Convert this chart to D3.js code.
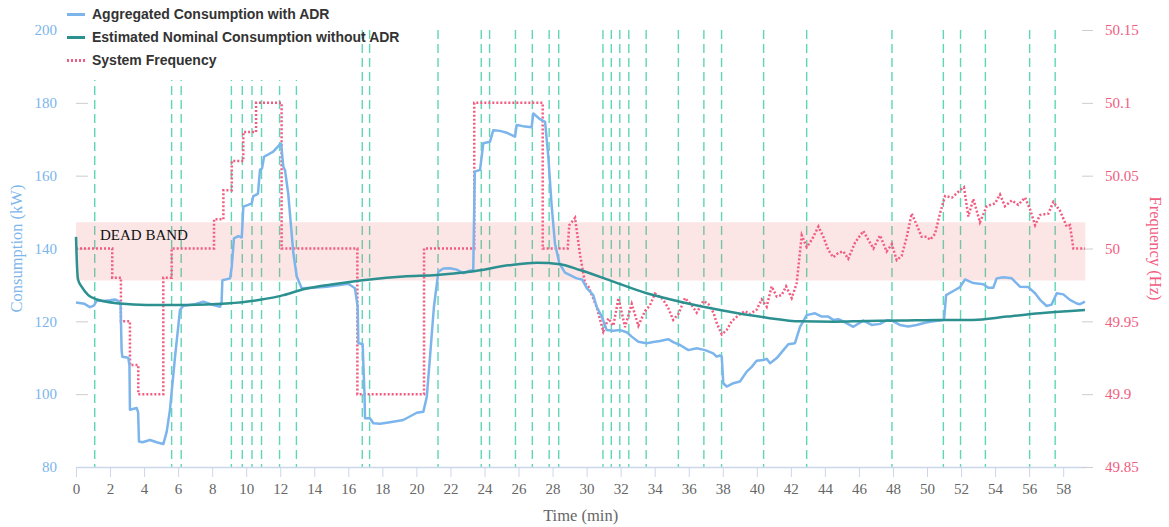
<!DOCTYPE html>
<html>
<head>
<meta charset="utf-8">
<script src="https://cdn.jsdelivr.net/npm/d3@7"></script>
<style>
  body { margin: 0; background: #fff; }
  svg { display: block; }
  .serif { font-family: "Liberation Serif", "Times New Roman", serif; }
  .legend text { font-family: "Liberation Sans", Arial, sans-serif; font-weight: bold; font-size: 14px; fill: #333; }
</style>
</head>
<body>
<svg id="chart" width="1169" height="527"></svg>
<script>
// minutes where an ADR event happened (dashed markers)
var eventTimes = [1.10, 5.62, 6.18, 9.13, 9.77, 10.34, 10.90, 11.96, 12.95, 16.82, 17.25, 21.27,
  23.81, 24.30, 25.82, 26.81, 27.80, 28.36, 30.96, 31.45, 31.95, 32.48, 33.50, 35.39, 36.89,
  37.93, 40.40, 42.93, 47.94, 50.96, 51.97, 53.43, 56.03, 57.53];

// [time (min), kW]
var aggregatedConsumption = [
  [0, 125.2], [0.5, 124.8], [0.82, 123.9], [1.05, 124.3], [1.22, 125.7], [1.6, 125.6], [2.0, 125.8],
  [2.29, 126.0], [2.54, 125.5], [2.62, 124.5], [2.68, 112], [2.72, 110.3], [3.07, 110.0], [3.14, 108],
  [3.17, 95.7], [3.57, 96.2], [3.65, 95], [3.70, 87.0], [3.9, 86.8], [4.35, 87.4], [4.74, 86.8],
  [5.13, 86.3], [5.33, 89.7], [5.52, 95.7], [5.82, 110.3], [6.11, 123.1], [6.30, 124.3], [6.89, 124.6],
  [7.48, 125.4], [8.07, 124.5], [8.46, 124.0], [8.55, 124.8], [8.60, 131.3], [9.05, 131.8], [9.15, 135],
  [9.28, 142.8], [9.54, 143.4], [9.74, 143.0], [9.83, 151.5], [10.12, 152.0], [10.32, 152.4],
  [10.42, 154.4], [10.69, 155], [10.81, 161.6], [10.93, 162], [11.05, 165.2], [11.59, 166.6],
  [11.94, 168.4], [12.05, 168.8], [12.18, 162.5], [12.28, 161.5], [12.47, 155], [12.77, 138.7],
  [12.97, 132.3], [13.26, 129.1], [13.94, 129.2], [14.73, 129.5], [15.51, 130.0], [16.0, 130.3],
  [16.39, 129.1], [16.55, 124], [16.59, 114], [16.84, 113.8], [16.95, 100], [16.98, 93.4],
  [17.27, 93.4], [17.47, 92.0], [17.86, 91.9], [18.45, 92.3], [19.23, 92.9], [20.02, 94.9],
  [20.41, 95.2], [20.61, 99.3], [20.80, 110.3], [21.03, 124], [21.29, 133.6], [21.58, 134.5],
  [21.97, 134.6], [22.37, 134.2], [22.76, 133.2], [23.05, 133.8], [23.34, 134], [23.43, 161.1],
  [23.74, 161.6], [23.93, 168.9], [24.32, 169.3], [24.52, 172.5], [24.91, 172.3], [25.31, 171.8],
  [25.79, 170.7], [25.89, 173.9], [26.26, 173.6], [26.77, 173.3], [26.87, 177.1], [27.26, 175.5],
  [27.56, 174.8], [27.75, 165.2], [27.95, 151.5], [28.14, 141.4], [28.40, 135.9], [28.73, 133.4],
  [29.42, 131.8], [29.73, 131.5], [30.01, 129.1], [30.39, 127.2], [30.59, 124], [30.89, 121.3],
  [31.18, 117.6], [31.57, 117.4], [31.96, 117.6], [32.36, 117.0], [32.65, 115.8], [33.04, 114.4],
  [33.53, 114], [33.92, 114.3], [34.31, 114.6], [34.80, 115.1], [35.09, 114.3], [35.49, 113.5],
  [35.98, 112.1], [36.47, 112.6], [36.96, 112.1], [37.44, 111.2], [37.64, 110.3], [37.84, 110.6],
  [37.94, 110.3], [38.03, 103], [38.23, 102.1], [38.62, 103], [39.01, 103.5], [39.41, 106.2],
  [39.70, 107.5], [39.99, 109.2], [40.38, 109.4], [40.58, 109.7], [40.78, 108.5], [41.17, 109.9],
  [41.56, 112.1], [41.85, 113.7], [42.24, 114], [42.54, 118.5], [42.93, 121.7], [43.42, 122.2],
  [43.81, 121.3], [44.20, 121.3], [44.49, 120.4], [44.79, 120.6], [45.08, 120.0], [45.67, 118.5],
  [46.26, 120.2], [46.75, 119], [47.24, 119.3], [47.63, 120.3], [47.93, 120.2], [48.41, 119],
  [48.90, 118.6], [49.39, 119.0], [49.88, 119.6], [50.37, 120.0], [50.76, 120.2], [51.0, 120.4],
  [51.12, 127.2], [51.65, 128.6], [51.94, 129.4], [52.23, 131.5], [52.72, 130.5], [53.31, 130.2],
  [53.60, 129.2], [53.89, 129.2], [54.09, 131.8], [54.48, 132.1], [54.98, 131.8], [55.46, 129.5],
  [55.95, 129.4], [56.35, 127.7], [56.64, 125.9], [57.03, 124.2], [57.32, 124.6], [57.62, 127.7],
  [58.01, 127.4], [58.40, 125.9], [58.80, 124.9], [58.99, 124.7], [59.28, 125.4]
];

// [time (min), kW]
var nominalConsumption = [
  [0, 143.2], [0.05, 136], [0.12, 131.5], [0.33, 129.5], [0.72, 127.2], [1.22, 126.0], [2.59, 124.9],
  [4.15, 124.5], [6.5, 124.5], [8.85, 124.9], [10.81, 125.9], [12.2, 127.2], [13.36, 128.8],
  [15.32, 130.3], [17.27, 131.5], [19.23, 132.3], [21.19, 132.7], [23.15, 133.6], [25.6, 135.5],
  [27.07, 136.1], [28.44, 135.7], [29.61, 134.1], [31.57, 130.9], [33.53, 127.7], [35.49, 125.4],
  [37.84, 123.1], [40.58, 121.0], [42.54, 120.0], [44.49, 119.9], [46.46, 120.1], [48.41, 120.2],
  [50.76, 120.4], [52.7, 120.4], [54.68, 121.3], [56.64, 122.2], [59.28, 123.1]
];

// [time (min), Hz]
var systemFrequency = [
  [0, 50], [2.13, 50], [2.13, 49.98], [2.64, 49.98], [2.64, 49.95], [3.17, 49.95], [3.17, 49.92],
  [3.66, 49.92], [3.66, 49.9], [5.13, 49.9], [5.13, 49.98], [5.62, 49.98], [5.62, 50], [8.11, 50],
  [8.11, 50.02], [8.66, 50.02], [8.66, 50.04], [9.15, 50.04], [9.15, 50.06], [9.83, 50.06],
  [9.83, 50.08], [10.58, 50.08], [10.58, 50.1], [12.08, 50.1], [12.08, 50], [16.53, 50],
  [16.53, 49.9], [20.45, 49.9], [20.45, 50], [23.40, 50], [23.40, 50.1], [27.42, 50.1],
  [27.42, 50], [28.89, 50],
  [28.98, 50.016], [29.32, 50.021], [29.61, 49.996], [29.91, 49.976], [30.1, 49.974], [30.59, 49.96],
  [30.98, 49.943], [31.28, 49.952], [31.57, 49.947], [31.87, 49.966], [32.26, 49.946], [32.65, 49.962],
  [33.04, 49.947], [33.43, 49.957], [33.72, 49.961], [34.02, 49.969], [34.41, 49.966], [34.6, 49.963],
  [34.8, 49.959], [35.09, 49.951], [35.39, 49.955], [35.78, 49.966], [36.18, 49.961], [36.47, 49.956],
  [36.86, 49.964], [37.15, 49.962], [37.45, 49.956], [37.64, 49.949], [37.94, 49.941], [38.23, 49.944],
  [38.52, 49.95], [38.91, 49.954], [39.31, 49.957], [39.6, 49.955], [39.99, 49.958], [40.29, 49.965],
  [40.58, 49.96], [40.87, 49.974], [41.17, 49.967], [41.46, 49.968], [41.72, 49.974], [42.05, 49.966],
  [42.34, 49.976], [42.64, 50.009], [42.93, 50.001], [43.23, 50.006], [43.62, 50.015], [43.91, 50.008],
  [44.2, 49.999], [44.49, 49.994], [44.79, 49.997], [45.08, 49.998], [45.37, 49.993], [45.77, 50.004],
  [46.26, 50.012], [46.55, 50.006], [46.85, 50.0], [47.24, 50.009], [47.63, 49.998], [47.93, 50.003],
  [48.22, 49.992], [48.51, 49.995], [48.81, 50.008], [49.1, 50.024], [49.4, 50.016], [49.69, 50.008],
  [49.98, 50.008], [50.18, 50.006], [50.47, 50.01], [50.76, 50.024], [51.06, 50.036], [51.47, 50.035],
  [51.94, 50.04], [52.17, 50.042], [52.43, 50.022], [52.72, 50.034], [53.11, 50.018], [53.51, 50.029],
  [54.0, 50.031], [54.29, 50.037], [54.58, 50.029], [54.98, 50.033], [55.36, 50.03], [55.76, 50.035],
  [56.05, 50.027], [56.35, 50.016], [56.64, 50.023], [57.13, 50.024], [57.42, 50.032], [57.81, 50.026],
  [58.21, 50.015], [58.4, 50.016], [58.6, 50.0], [59.28, 50.0]
];

var deadBand = [49.978, 50.018];
var timeTicks = d3.range(0, 59, 2);
var kwTicks = [80, 100, 120, 140, 160, 180, 200];
var hzTicks = [49.85, 49.9, 49.95, 50, 50.05, 50.1, 50.15];

var svg = d3.select("#chart");
var plotLeft = 76, plotRight = 1085.3, plotTop = 30, plotBottom = 467;

var x = d3.scaleLinear().domain([0, 59.3]).range([plotLeft, plotRight]);
var yKw = d3.scaleLinear().domain([80, 200]).range([plotBottom, plotTop]);
var yHz = d3.scaleLinear().domain([49.85, 50.15]).range([plotBottom, plotTop]);

// small inner ticks on the left axis
var kwTickMarks = svg.append("g")
  .attr("transform", "translate(" + plotLeft + ",0)")
  .call(d3.axisRight(yKw).tickValues(kwTicks).tickSize(12).tickFormat(""));
kwTickMarks.select(".domain").remove();
kwTickMarks.selectAll("line").attr("stroke", "#ccc");

// event markers
svg.append("g")
  .selectAll("line")
  .data(eventTimes)
  .enter().append("line")
  .attr("x1", function(d) { return x(d); })
  .attr("x2", function(d) { return x(d); })
  .attr("y1", plotTop)
  .attr("y2", plotBottom)
  .attr("stroke", "#5fd6b6")
  .attr("stroke-width", 1.4)
  .attr("stroke-dasharray", "9,5");

// dead band
svg.append("rect")
  .attr("x", plotLeft)
  .attr("width", plotRight - plotLeft)
  .attr("y", yHz(deadBand[1]))
  .attr("height", yHz(deadBand[0]) - yHz(deadBand[1]))
  .attr("fill", "rgba(240,100,100,0.17)");

svg.append("text")
  .attr("class", "serif")
  .attr("x", 100)
  .attr("y", 240)
  .attr("font-size", 15)
  .attr("fill", "#111")
  .text("DEAD BAND");

// x axis
var xAxis = svg.append("g")
  .attr("transform", "translate(0," + plotBottom + ")")
  .call(d3.axisBottom(x).tickValues(timeTicks).tickSize(10).tickPadding(6).tickSizeOuter(0));
xAxis.select(".domain").attr("stroke", "#ccd6eb").attr("stroke-width", 1.5);
xAxis.selectAll(".tick line").attr("stroke", "#ccd6eb");
xAxis.selectAll("text").attr("class", "serif").attr("font-size", 15).attr("fill", "#666");

// left axis labels
var kwAxis = svg.append("g")
  .attr("transform", "translate(" + plotLeft + ",0)")
  .call(d3.axisLeft(yKw).tickValues(kwTicks).tickSize(0).tickPadding(19));
kwAxis.select(".domain").remove();
kwAxis.selectAll("text").attr("class", "serif").attr("font-size", 15).attr("fill", "#7cb5ec");

// right axis
var hzTickMarks = svg.append("g")
  .attr("transform", "translate(1093,0)")
  .call(d3.axisLeft(yHz).tickValues(hzTicks).tickSize(11).tickFormat(""));
hzTickMarks.select(".domain").remove();
hzTickMarks.selectAll("line").attr("stroke", "#ccc");

var hzAxis = svg.append("g")
  .attr("transform", "translate(1093,0)")
  .call(d3.axisRight(yHz).tickValues(hzTicks).tickSize(0).tickPadding(12).tickFormat(d3.format("")));
hzAxis.select(".domain").remove();
hzAxis.selectAll("text").attr("class", "serif").attr("font-size", 15).attr("fill", "#f15c80");

// axis titles
svg.append("text")
  .attr("class", "serif")
  .attr("transform", "translate(22," + (plotTop + plotBottom) / 2 + ") rotate(-90)")
  .attr("text-anchor", "middle")
  .attr("font-size", 16.5)
  .attr("fill", "#7cb5ec")
  .text("Consumption (kW)");

svg.append("text")
  .attr("class", "serif")
  .attr("transform", "translate(1150," + (plotTop + plotBottom) / 2 + ") rotate(90)")
  .attr("text-anchor", "middle")
  .attr("font-size", 16.5)
  .attr("fill", "#f15c80")
  .text("Frequency (Hz)");

svg.append("text")
  .attr("class", "serif")
  .attr("x", (plotLeft + plotRight) / 2)
  .attr("y", 521)
  .attr("text-anchor", "middle")
  .attr("font-size", 16.5)
  .attr("fill", "#666")
  .text("Time (min)");

// series
var kwLine = d3.line()
  .x(function(d) { return x(d[0]); })
  .y(function(d) { return yKw(d[1]); });

var nominalLine = d3.line()
  .curve(d3.curveMonotoneX)
  .x(function(d) { return x(d[0]); })
  .y(function(d) { return yKw(d[1]); });

var hzLine = d3.line()
  .x(function(d) { return x(d[0]); })
  .y(function(d) { return yHz(d[1]); });

svg.append("path")
  .datum(systemFrequency)
  .attr("d", hzLine)
  .attr("fill", "none")
  .attr("stroke", "#f15c80")
  .attr("stroke-width", 2.5)
  .attr("stroke-dasharray", "2,2");

svg.append("path")
  .datum(aggregatedConsumption)
  .attr("d", kwLine)
  .attr("fill", "none")
  .attr("stroke", "#7cb5ec")
  .attr("stroke-width", 2.5)
  .attr("stroke-linejoin", "round");

svg.append("path")
  .datum(nominalConsumption)
  .attr("d", nominalLine)
  .attr("fill", "none")
  .attr("stroke", "#2b908f")
  .attr("stroke-width", 2.5);

// legend
var legendItems = [
  { name: "Aggregated Consumption with ADR", color: "#7cb5ec", dash: null },
  { name: "Estimated Nominal Consumption without ADR", color: "#2b908f", dash: null },
  { name: "System Frequency", color: "#f15c80", dash: "2,2" }
];

var legend = svg.append("g").attr("class", "legend");
legend.append("rect")
  .attr("x", 60).attr("y", 0)
  .attr("width", 285).attr("height", 80)
  .attr("fill", "#fff");

var item = legend.selectAll(".item")
  .data(legendItems)
  .enter().append("g")
  .attr("class", "item")
  .attr("transform", function(d, i) { return "translate(0," + (14.5 + i * 23) + ")"; });

item.append("line")
  .attr("x1", 67).attr("x2", 85)
  .attr("stroke", function(d) { return d.color; })
  .attr("stroke-width", 3)
  .attr("stroke-dasharray", function(d) { return d.dash; });

item.append("text")
  .attr("x", 92)
  .attr("dy", "0.35em")
  .text(function(d) { return d.name; });
</script>
</body>
</html>
